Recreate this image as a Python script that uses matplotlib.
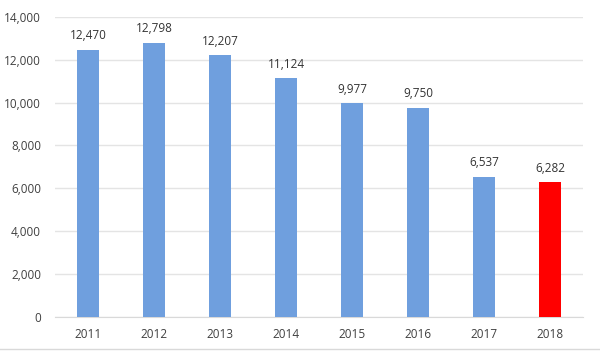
import matplotlib
matplotlib.use('Agg')
import matplotlib.pyplot as plt
import numpy as np

years = ['2011', '2012', '2013', '2014', '2015', '2016', '2017', '2018']
values = [12470, 12798, 12207, 11124, 9977, 9750, 6537, 6282]
colors = ['#6f9fde'] * 7 + ['#ff0000']

plt.rcParams['font.family'] = ['Open Sans', 'DejaVu Sans']

fig = plt.figure(figsize=(6, 3.51), dpi=100)
ax = fig.add_axes([0.0917, 0.097, 0.88, 0.855])

x = np.arange(len(years))
bars = ax.bar(x, values, width=0.32, color=colors, zorder=3)

for xi, v in zip(x, values):
    ax.text(xi, v + 350, f'{v:,}', ha='center', va='bottom', fontsize=8.5, color='#333333')

ax.set_xlim(-0.5, len(years) - 0.5)
ax.set_ylim(0, 14000)
ax.set_yticks(range(0, 14001, 2000))
ax.set_yticklabels([f'{t:,}' for t in range(0, 14001, 2000)])
ax.set_xticks(x)
ax.set_xticklabels(years)
ax.tick_params(axis='both', length=0, labelsize=8.5, colors='#404040')
ax.tick_params(axis='x', pad=8)
ax.tick_params(axis='y', pad=10)

ax.grid(axis='y', color='#e4e4e4', linewidth=1, zorder=0)
for s in ['top', 'right', 'left']:
    ax.spines[s].set_visible(False)
ax.spines['bottom'].set_color('#d9d9d9')

fig.add_artist(plt.Line2D([0, 1], [0.006, 0.006], color='#d9d9d9', linewidth=1))

fig.savefig('out.png', dpi=100)
